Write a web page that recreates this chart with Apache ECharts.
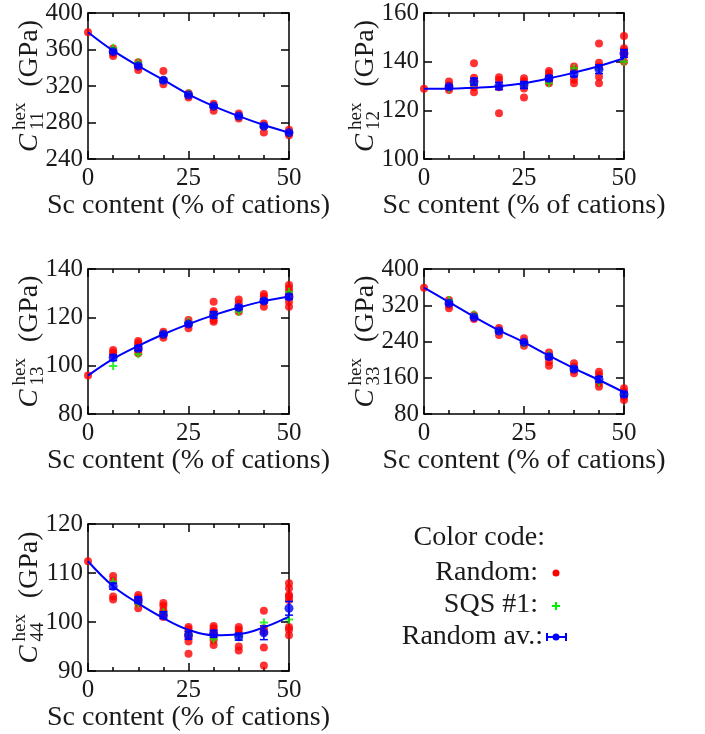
<!DOCTYPE html>
<html><head><meta charset="utf-8">
<script src="https://cdn.jsdelivr.net/npm/echarts/dist/echarts.min.js"></script>
<style>html,body{margin:0;padding:0;background:#fff}#c{width:705px;height:734px}</style>
</head><body><div id="c"></div>
<script>
// ---------------- data ----------------
const comps = [0, 6.25, 12.5, 18.75, 25, 31.25, 37.5, 43.75, 50];
const compsAvg = [6.25, 12.5, 18.75, 25, 31.25, 37.5, 43.75, 50];
const xAxisName = 'Sc content (% of cations)';

// C11
const c11Random = [[379],[361,356,353],[346,341,337.5],[336.5,326.5,322],[312,307.5],[300.5,297,293],[290,284.5],[279,275.5,269],[272,268,266]];
const c11Sqs = [null,362,346,326,312,298,287,276,268];
const c11Avg = [357.6,342,326.2,310.1,298,287.1,276,268.9];
const c11Err = [1.5,1.5,2,1,1.5,1,1.5,1];
const c11Fit = [379,358.7,342,326.6,310.9,298,287,277.3,268.9];
const c11Ticks = [240,280,320,360,400];

// C12
const c12Random = [[128.9],[131.8,130.4,129.5,128.4],[139.3,133.4,131.8,129.5,127.4],[133.6,132.5,129.5,118.8],[133.2,132,129,125.3],[136.2,135.2,133.8,131.8,131.1],[138,136.6,132.7,131.1],[147.5,139.6,138,133.8,131.1],[150.5,145.5,144.5,143.4,142.7,140]];
const c12Sqs = [null,129,131,130,130.4,131.1,137.3,136.9,140];
const c12Avg = [129.7,131.8,130,130.4,133.2,134.9,136.9,143.4];
const c12Err = [0.6,1.4,1.5,1.4,1,1,1.8,1.6];
const c12Fit = [128.9,128.9,129.3,129.9,131.1,133.1,135.5,138.2,141.4];
const c12Ticks = [100,120,140,160];

// C13
const c13Random = [[95.9],[106.5,105.5,104.4],[110.2,109.3,108.3,106.5,105.1],[114,112.7,111.6],[118.9,117.5,115.5],[126.5,122.6,121.7,118.9,118.2],[127.4,125.8,123.7,122.3],[129.7,128.6,126.5,124.4],[133.4,132,130.6,128.6,126.5,124.4]];
const c13Sqs = [null,99.9,104.7,113,118.2,121,122.3,126.8,130.6];
const c13Avg = [103.3,107.2,113,117.2,121,124.1,126.8,128.5];
const c13Err = [1.2,1,0.5,0.6,1.3,0.8,0.8,1];
const c13Fit = [95.9,102.8,108.2,113,117.2,120.9,124.1,126.7,128.5];
const c13Ticks = [80,100,120,140];

// C33
const c33Random = [[358.8],[331.6,320.5,313.2],[298.5,289.7],[270,263,254.4],[247,238.2,230.8],[216,206.5,195.5,186.6],[191.8,184.4,177,169.7],[173.4,166.1,147.7,140.4],[136.6,129.2,118.2,110.8]];
const c33Sqs = [null,331.6,300,263,235,210,180,150,123];
const c33Avg = [324.3,293.4,263.2,238.2,206.5,179.3,156.5,123.5];
const c33Err = [3,2,3,2,5,4,6,5];
const c33Fit = [358.8,327,294.7,264.7,238.2,208.7,180.8,155,127.8];
const c33Ticks = [80,160,240,320,400];

// C44
const c44Random = [[112.4],[109.4,108.4,105.2,104.6],[105.5,105,104.5,103.9,102.8],[103.9,103.3,102.4,101.8,101],[99,98.5,97.8,97,96,93.5],[99.2,98.7,98,97.3,96.3,95.3],[99,98.4,97.7,95,94.2],[102.3,98.7,98,94.8,91.1],[107.9,106.9,105.5,105.2,104.5,99,98.4,97.3]];
const c44Sqs = [null,108.2,103.8,102,97.5,96.5,97,99.9,100.5];
const c44Avg = [107.3,104.5,101.4,97.3,97.6,97,97.8,102.8];
const c44Err = [0.6,0.6,0.7,0.8,0.7,0.7,1.4,1.4];
const c44Fit = [112.4,107.3,103.8,100.8,98.4,97.3,97.5,98.9,101.1];
const c44Ticks = [90,100,110,120];

const panels = [
  {sub:'11', random:c11Random, sqs:c11Sqs, avg:c11Avg, err:c11Err, fit:c11Fit, ticks:c11Ticks},
  {sub:'12', random:c12Random, sqs:c12Sqs, avg:c12Avg, err:c12Err, fit:c12Fit, ticks:c12Ticks},
  {sub:'13', random:c13Random, sqs:c13Sqs, avg:c13Avg, err:c13Err, fit:c13Fit, ticks:c13Ticks},
  {sub:'33', random:c33Random, sqs:c33Sqs, avg:c33Avg, err:c33Err, fit:c33Fit, ticks:c33Ticks},
  {sub:'44', random:c44Random, sqs:c44Sqs, avg:c44Avg, err:c44Err, fit:c44Fit, ticks:c44Ticks},
];

// ---------------- layout / style ----------------
const FONT = 'Liberation Serif';
const TXT = '#1a1a1a';
const RED = '#ff0000', GREEN = '#00ee00', BLUE = '#0000ff';
const boxes = [
  {left:88, top:13, width:201, height:146},
  {left:424, top:13, width:200, height:146},
  {left:88, top:269, width:201, height:145},
  {left:424, top:269, width:200, height:145},
  {left:88, top:524, width:201, height:147},
];
const PLUS = 'path://M-1,-4H1V-1H4V1H1V4H-1V1H-4V-1H-1Z';

const grids = [], xAxes = [], yAxes = [], series = [], graphics = [];
const lineStyle = {color:'#000', width:1.5};

panels.forEach((p, i) => {
  const b = boxes[i];
  grids.push(Object.assign({containLabel:false}, b));
  const tmin = p.ticks[0], tmax = p.ticks[p.ticks.length-1];
  const tint = p.ticks[1] - p.ticks[0];
  ['bottom','top'].forEach((pos, k) => {
    xAxes.push({
      gridIndex:i, type:'value', position:pos, min:0, max:50, interval:25,
      axisLine:{show:true, onZero:false, lineStyle},
      axisTick:{show:true, inside:true, length:8, lineStyle},
      minorTick:{show:true, splitNumber:4, length:4, lineStyle},
      splitLine:{show:false}, minorSplitLine:{show:false},
      axisLabel:{show:k===0, fontFamily:FONT, fontSize:25, color:TXT, margin:7,
                 showMinLabel:true, showMaxLabel:true},
      name: k===0 ? xAxisName : '', nameLocation:'middle', nameGap:30,
      nameTextStyle:{fontFamily:FONT, fontSize:28, color:TXT}
    });
  });
  ['left','right'].forEach((pos, k) => {
    yAxes.push({
      gridIndex:i, type:'value', position:pos, min:tmin, max:tmax, interval:tint,
      axisLine:{show:true, onZero:false, lineStyle},
      axisTick:{show:true, inside:true, length:8, lineStyle},
      splitLine:{show:false},
      axisLabel:{show:k===0, fontFamily:FONT, fontSize:25, color:TXT, margin:5,
                 showMinLabel:true, showMaxLabel:true}
    });
  });
  const xi = 2*i, yi = 2*i;
  const redData = [];
  p.random.forEach((vals, j) => vals.forEach(v => redData.push([comps[j], v])));
  series.push({type:'scatter', name:'Random', xAxisIndex:xi, yAxisIndex:yi, data:redData,
    symbol:'circle', symbolSize:8, itemStyle:{color:RED}, clip:false, z:3});
  const greenData = [];
  p.sqs.forEach((v, j) => { if (v !== null) greenData.push([comps[j], v]); });
  series.push({type:'scatter', name:'SQS #1', xAxisIndex:xi, yAxisIndex:yi, data:greenData,
    symbol:PLUS, symbolSize:8, itemStyle:{color:GREEN}, clip:false, z:4});
  series.push({type:'line', name:'fit', xAxisIndex:xi, yAxisIndex:yi,
    data:p.fit.map((v, j) => [comps[j], v]), smooth:0.4, showSymbol:false, symbol:'none',
    lineStyle:{color:BLUE, width:2}, clip:false, z:5, silent:true});
  series.push({type:'custom', name:'err', xAxisIndex:xi, yAxisIndex:yi,
    data:p.avg.map((v, j) => [compsAvg[j], v, p.err[j]]), encode:{x:0, y:1}, z:6, clip:false,
    renderItem:(params, api) => {
      const x = api.value(0), y = api.value(1), e = api.value(2);
      const t = api.coord([x, y + e]), bt = api.coord([x, y - e]);
      const cw = 4, st = {stroke:BLUE, lineWidth:1.5};
      return {type:'group', children:[
        {type:'line', shape:{x1:t[0], y1:t[1], x2:bt[0], y2:bt[1]}, style:st},
        {type:'line', shape:{x1:t[0]-cw, y1:t[1], x2:t[0]+cw, y2:t[1]}, style:st},
        {type:'line', shape:{x1:bt[0]-cw, y1:bt[1], x2:bt[0]+cw, y2:bt[1]}, style:st}
      ]};
    }});
  series.push({type:'scatter', name:'Random av.', xAxisIndex:xi, yAxisIndex:yi,
    data:p.avg.map((v, j) => [compsAvg[j], v]), symbol:'circle', symbolSize:9,
    itemStyle:{color:BLUE}, clip:false, z:7});

  // rotated y-axis title: C_{sub}^{hex} (GPa); local y<0 is screen-left after rotation
  const cx = b.left - 50, cy = b.top + b.height/2;
  graphics.push({type:'group', x:cx, y:cy, rotation:Math.PI/2, children:[
    {type:'text', x:-66, y:-8, style:{text:'C', font:'italic 27px "'+FONT+'"', fill:TXT, textAlign:'left', textVerticalAlign:'middle'}},
    {type:'text', x:-44, y:-18, style:{text:'hex', font:'19px "'+FONT+'"', fill:TXT, textAlign:'left', textVerticalAlign:'middle'}},
    {type:'text', x:-44, y:0, style:{text:p.sub, font:'19px "'+FONT+'"', fill:TXT, textAlign:'left', textVerticalAlign:'middle'}},
    {type:'text', x:66, y:-8, style:{text:'(GPa)', font:'28px "'+FONT+'"', fill:TXT, textAlign:'right', textVerticalAlign:'middle'}}
  ]});
});

// legend ("Color code")
const LF = '28px "'+FONT+'"';
graphics.push(
  {type:'text', x:545, y:538, style:{text:'Color code:', font:LF, fill:TXT, textAlign:'right', textVerticalAlign:'middle'}},
  {type:'text', x:538, y:573, style:{text:'Random:', font:LF, fill:TXT, textAlign:'right', textVerticalAlign:'middle'}},
  {type:'circle', shape:{cx:556, cy:573, r:3.5}, style:{fill:RED}},
  {type:'text', x:538, y:605, style:{text:'SQS #1:', font:LF, fill:TXT, textAlign:'right', textVerticalAlign:'middle'}},
  {type:'polygon', shape:{points:[[555,602],[557,602],[557,605],[560,605],[560,607],[557,607],[557,610],[555,610],[555,607],[552,607],[552,605],[555,605]]}, style:{fill:GREEN}},
  {type:'text', x:543, y:637, style:{text:'Random av.:', font:LF, fill:TXT, textAlign:'right', textVerticalAlign:'middle'}},
  {type:'line', shape:{x1:547, y1:637, x2:566, y2:637}, style:{stroke:BLUE, lineWidth:2}},
  {type:'line', shape:{x1:547, y1:633, x2:547, y2:641}, style:{stroke:BLUE, lineWidth:2}},
  {type:'line', shape:{x1:566, y1:633, x2:566, y2:641}, style:{stroke:BLUE, lineWidth:2}},
  {type:'circle', shape:{cx:556, cy:637, r:3.5}, style:{fill:BLUE}}
);

const chart = echarts.init(document.getElementById('c'), null, {renderer:'canvas'});
chart.setOption({
  animation:false,
  backgroundColor:'#fff',
  grid:grids, xAxis:xAxes, yAxis:yAxes, series:series,
  graphic:{elements:graphics}
});
</script></body></html>
